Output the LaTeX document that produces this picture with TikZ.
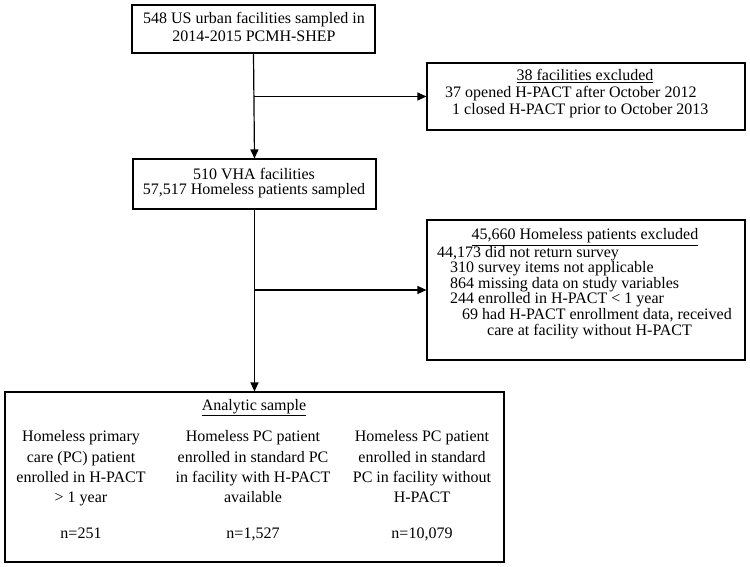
\documentclass[tikz,border=0pt]{standalone}
\usepackage{fontspec}
\setmainfont{Liberation Serif}
\usetikzlibrary{arrows.meta}
\tikzset{
  boxframe/.style={draw=black, line width=1.1pt, rectangle, inner sep=0pt},
  txt/.style={inner sep=0pt, font=\fontsize{16}{16}\selectfont},
  ctxt/.style={txt, anchor=base},
  ltxt/.style={txt, anchor=base west},
  conn/.style={line width=1.2pt, -{Triangle[length=9pt,width=8pt]}}
}
\begin{document}
\begin{tikzpicture}[x=1pt,y=-1pt]
\useasboundingbox (0,0) rectangle (750,567);
% boxes
\node[boxframe, minimum width=243pt, minimum height=48pt] (box1) at (253.5,29) {};
\node[boxframe, minimum width=243pt, minimum height=50pt] (box2) at (254.5,184) {};
\node[boxframe, minimum width=318pt, minimum height=67pt] (ex1) at (586,96.5) {};
\node[boxframe, minimum width=318pt, minimum height=140pt] (ex2) at (586,290) {};
\node[boxframe, minimum width=499pt, minimum height=170pt] (box3) at (254.5,477) {};
% box1 text
\node[ctxt] (b1a) at (254,24) {548 US urban facilities sampled in};
\node[ctxt] (b1b) at (254,42) {2014-2015 PCMH-SHEP};
% box2 text
\node[ctxt] (b2a) at (254,179) {510 VHA facilities};
\node[ctxt] (b2b) at (254,195) {57,517 Homeless patients sampled};
% ex1 text
\node[ctxt] (e1h) at (585,81) {\underline{38 facilities excluded}};
\node[ltxt] (e1a) at (445,98) {37 opened H-PACT after October 2012};
\node[ltxt] (e1b) at (452,115) {1 closed H-PACT prior to October 2013};
% ex2 text
\node[ctxt] (e2h) at (585,240) {\underline{45,660 Homeless patients excluded}};
\node[ltxt] (e2a) at (437,257) {44,173 did not return survey};
\node[ltxt] (e2b) at (450,272) {310 survey items not applicable};
\node[ltxt] (e2c) at (450,288) {864 missing data on study variables};
\node[ltxt] (e2d) at (450,303) {244 enrolled in H-PACT < 1 year};
\node[ltxt] (e2e) at (462,319) {69 had H-PACT enrollment data, received};
\node[ltxt] (e2f) at (487,335) {care at facility without H-PACT};
% box3 text
\node[ctxt] (b3h) at (254,410) {\underline{Analytic sample}};
\node[ctxt] (c1a) at (81,441) {Homeless primary};
\node[ctxt] (c1b) at (81,462) {care (PC) patient};
\node[ctxt] (c1c) at (81,482) {enrolled in H-PACT};
\node[ctxt] (c1d) at (81,502) {> 1 year};
\node[ctxt] (c1n) at (81,538) {n=251};
\node[ctxt] (c2a) at (253,441) {Homeless PC patient};
\node[ctxt] (c2b) at (253,462) {enrolled in standard PC};
\node[ctxt] (c2c) at (253,482) {in facility with H-PACT};
\node[ctxt] (c2d) at (253,502) {available};
\node[ctxt] (c2n) at (253,538) {n=1,527};
\node[ctxt] (c3a) at (422,441) {Homeless PC patient};
\node[ctxt] (c3b) at (422,462) {enrolled in standard};
\node[ctxt] (c3c) at (422,482) {PC in facility without};
\node[ctxt] (c3d) at (422,502) {H-PACT};
\node[ctxt] (c3n) at (422,538) {n=10,079};
% connectors
\coordinate (j1) at (box1.south |- ex1.west);
\coordinate (j2) at (box2.south |- ex2.west);
\draw[conn] (box1.south) -- (box2.north);
\draw[conn] (j1) -- (ex1.west);
\draw[conn] (box2.south) -- (box3.north);
\draw[conn] (j2) -- (ex2.west);
\end{tikzpicture}
\end{document}
